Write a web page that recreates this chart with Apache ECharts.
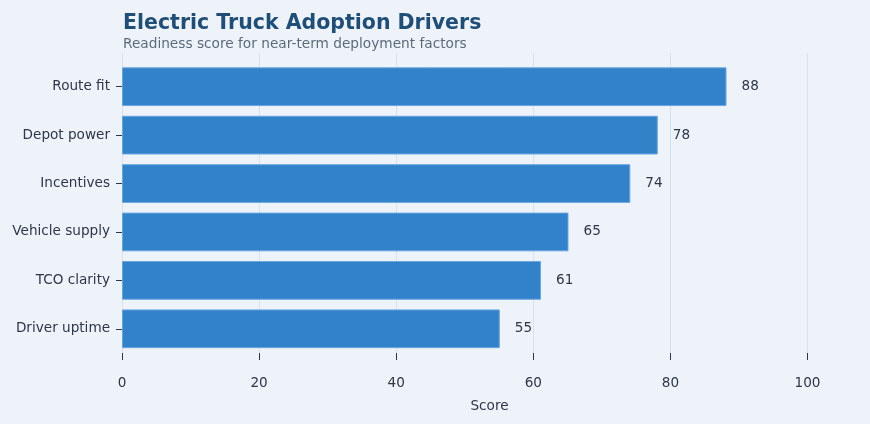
<!DOCTYPE html>
<html>
<head>
<meta charset="utf-8">
<script src="https://cdn.jsdelivr.net/npm/echarts@6/dist/echarts.min.js"></script>
<style>
html,body{margin:0;padding:0;background:#eef3fa;}
#c{width:870px;height:424px;}
</style>
</head>
<body>
<div id="c"></div>
<script>
const categories = ["Route fit", "Depot power", "Incentives", "Vehicle supply", "TCO clarity", "Driver uptime"];
const scores = [88, 78, 74, 65, 61, 55];
const xTicks = [0, 20, 40, 60, 80, 100];

const FONT = "DejaVu Sans";
const chart = echarts.init(document.getElementById('c'), null, {renderer: 'canvas'});
chart.setOption({
  backgroundColor: '#eef3fa',
  animation: false,
  textStyle: {fontFamily: FONT},
  title: {
    text: 'Electric Truck Adoption Drivers',
    subtext: 'Readiness score for near-term deployment factors',
    left: 123, top: 11, padding: 0, itemGap: 0,
    textStyle: {fontFamily: FONT, fontSize: 20.5, fontWeight: 'bold', color: '#1f4e79', lineHeight: 25},
    subtextStyle: {fontFamily: FONT, fontSize: 13.7, color: '#5b6b7c', lineHeight: 16}
  },
  grid: [
    {left: 122, right: 13, top: 62.5, bottom: 71},
    {left: 122, right: 62.5, top: 53, bottom: 71}
  ],
  xAxis: [
    {
      gridIndex: 0, type: 'value', min: 0, max: 107,
      axisLine: {show: false}, axisTick: {show: false}, axisLabel: {show: false}, splitLine: {show: false},
      name: 'Score', nameLocation: 'middle', nameGap: 46,
      nameTextStyle: {fontFamily: FONT, fontSize: 13.6, color: '#2d3748'}
    },
    {
      gridIndex: 1, type: 'value', min: xTicks[0], max: xTicks[xTicks.length - 1], interval: 20,
      offset: 9,
      axisLine: {show: false},
      axisTick: {show: true, length: 7, lineStyle: {color: '#2d3748', width: 1}},
      axisLabel: {margin: 14, fontFamily: FONT, fontSize: 13.6, color: '#2d3748'},
      splitLine: {show: true, lineStyle: {color: '#d9e1ec', width: 1}}
    }
  ],
  yAxis: [
    {
      gridIndex: 0, type: 'category', data: categories, inverse: true,
      axisLine: {show: false},
      axisTick: {show: true, alignWithLabel: true, length: 6, lineStyle: {color: '#2d3748', width: 1}},
      axisLabel: {margin: 12, fontFamily: FONT, fontSize: 13.6, color: '#2d3748'},
      splitLine: {show: false}
    },
    {
      gridIndex: 1, type: 'value', show: false, min: 0, max: 1
    }
  ],
  series: [{
    type: 'bar',
    xAxisIndex: 0, yAxisIndex: 0,
    data: scores,
    barCategoryGap: '20%',
    itemStyle: {color: '#3182c9', borderColor: '#6aa6e0', borderWidth: 1},
    label: {show: true, position: 'right', distance: 15, fontFamily: FONT, fontSize: 13.6, color: '#2d3748'}
  }]
});
</script>
</body>
</html>
